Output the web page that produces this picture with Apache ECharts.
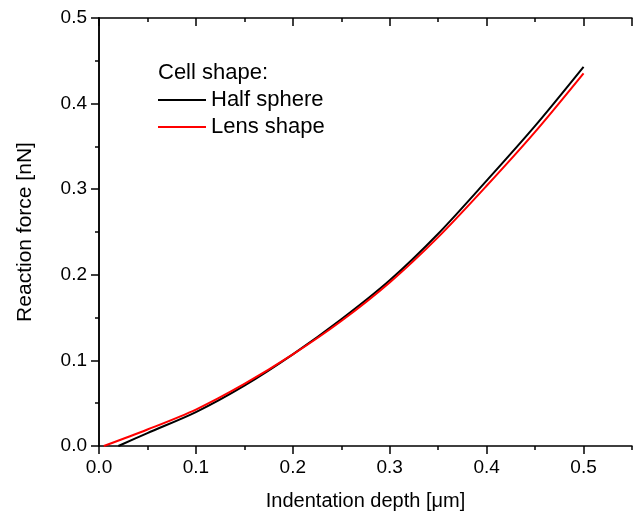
<!DOCTYPE html>
<html>
<head>
<meta charset="utf-8">
<script src="https://cdn.jsdelivr.net/npm/echarts@6/dist/echarts.min.js"></script>
<style>
  html, body { margin: 0; padding: 0; background: #fff; }
  #chart { width: 636px; height: 516px; }
</style>
</head>
<body>
<div id="chart"></div>
<script>
// values
const halfDepth = [0.02, 0.05, 0.10, 0.15, 0.20, 0.25, 0.30, 0.35, 0.40, 0.45, 0.50]
const halfForce = [0.0, 0.0151, 0.0396, 0.0705, 0.107, 0.148, 0.1936, 0.248, 0.310, 0.374, 0.443]
const lensDepth = [0.005, 0.05, 0.10, 0.15, 0.20, 0.25, 0.30, 0.35, 0.40, 0.45, 0.50]
const lensForce = [0.0, 0.0193, 0.0426, 0.0725, 0.107, 0.146, 0.191, 0.244, 0.304, 0.367, 0.4354]
const seriesNames = ['Half sphere', 'Lens shape']

const font = 'Liberation Sans, Arial, sans-serif'
const axisLine = { show: true, lineStyle: { color: '#000', width: 1.5 } }
const tickStyle = { color: '#000', width: 1.5 }

const pairs = (xs, ys) => xs.map((x, i) => [x, ys[i]])

const chart = echarts.init(document.getElementById('chart'))
chart.setOption({
  animation: false,
  backgroundColor: '#fff',
  textStyle: { fontFamily: font, color: '#000' },
  grid: { left: 99, top: 18, right: 4, bottom: 69 },
  title: {
    text: 'Cell shape:',
    left: 158,
    top: 62,
    padding: 0,
    textStyle: { fontFamily: font, fontSize: 22, fontWeight: 'normal', color: '#000', lineHeight: 22 }
  },
  legend: {
    data: seriesNames,
    orient: 'vertical',
    left: 158,
    top: 89,
    padding: 0,
    icon: 'rect',
    itemWidth: 48,
    itemHeight: 2,
    itemGap: 5,
    textStyle: { fontFamily: font, fontSize: 22, color: '#000', lineHeight: 22 }
  },
  xAxis: [
    {
      type: 'value', position: 'bottom', min: 0, max: 0.55, interval: 0.1,
      name: 'Indentation depth [\u03bcm]', nameLocation: 'middle', nameGap: 45,
      nameTextStyle: { fontFamily: font, fontSize: 20, color: '#000' },
      axisLine: axisLine,
      axisTick: { show: true, inside: false, length: 8, lineStyle: tickStyle },
      axisLabel: { fontFamily: font, fontSize: 19, color: '#000', margin: 12, showMaxLabel: false,
        formatter: v => v.toFixed(1) },
      splitLine: { show: false }
    },
    {
      type: 'value', position: 'bottom', min: 0, max: 0.55, interval: 0.05,
      axisLine: { show: false },
      axisTick: { show: true, inside: false, length: 4, lineStyle: tickStyle },
      axisLabel: { show: false },
      splitLine: { show: false }
    },
    {
      type: 'value', position: 'top', min: 0, max: 0.55, interval: 0.1,
      axisLine: axisLine,
      axisTick: { show: true, inside: true, length: 8, lineStyle: tickStyle },
      axisLabel: { show: false },
      splitLine: { show: false }
    },
    {
      type: 'value', position: 'top', min: 0, max: 0.55, interval: 0.05,
      axisLine: { show: false },
      axisTick: { show: true, inside: true, length: 4, lineStyle: tickStyle },
      axisLabel: { show: false },
      splitLine: { show: false }
    }
  ],
  yAxis: [
    {
      type: 'value', position: 'left', min: 0, max: 0.5, interval: 0.1,
      name: 'Reaction force [nN]', nameLocation: 'middle', nameGap: 63,
      nameTextStyle: { fontFamily: font, fontSize: 21, color: '#000' },
      axisLine: axisLine,
      axisTick: { show: true, inside: false, length: 8, lineStyle: tickStyle },
      minorTick: { show: true, splitNumber: 2, length: 4, lineStyle: tickStyle },
      axisLabel: { fontFamily: font, fontSize: 19, color: '#000', margin: 12,
        formatter: v => v.toFixed(1) },
      splitLine: { show: false }
    },
    {
      type: 'value', position: 'right', min: 0, max: 0.5, interval: 0.1,
      axisLine: axisLine,
      axisTick: { show: true, inside: true, length: 8, lineStyle: tickStyle },
      minorTick: { show: true, splitNumber: 2, length: 4, lineStyle: tickStyle },
      axisLabel: { show: false },
      splitLine: { show: false }
    }
  ],
  series: [
    {
      name: seriesNames[0], type: 'line', xAxisIndex: 0, yAxisIndex: 0,
      data: pairs(halfDepth, halfForce), smooth: 0.3, symbol: 'none',
      lineStyle: { color: '#000', width: 2 }, itemStyle: { color: '#000' }
    },
    {
      name: seriesNames[1], type: 'line', xAxisIndex: 0, yAxisIndex: 0,
      data: pairs(lensDepth, lensForce), smooth: 0.3, symbol: 'none',
      lineStyle: { color: '#ff0000', width: 2 }, itemStyle: { color: '#ff0000' }
    }
  ]
})
</script>
</body>
</html>
